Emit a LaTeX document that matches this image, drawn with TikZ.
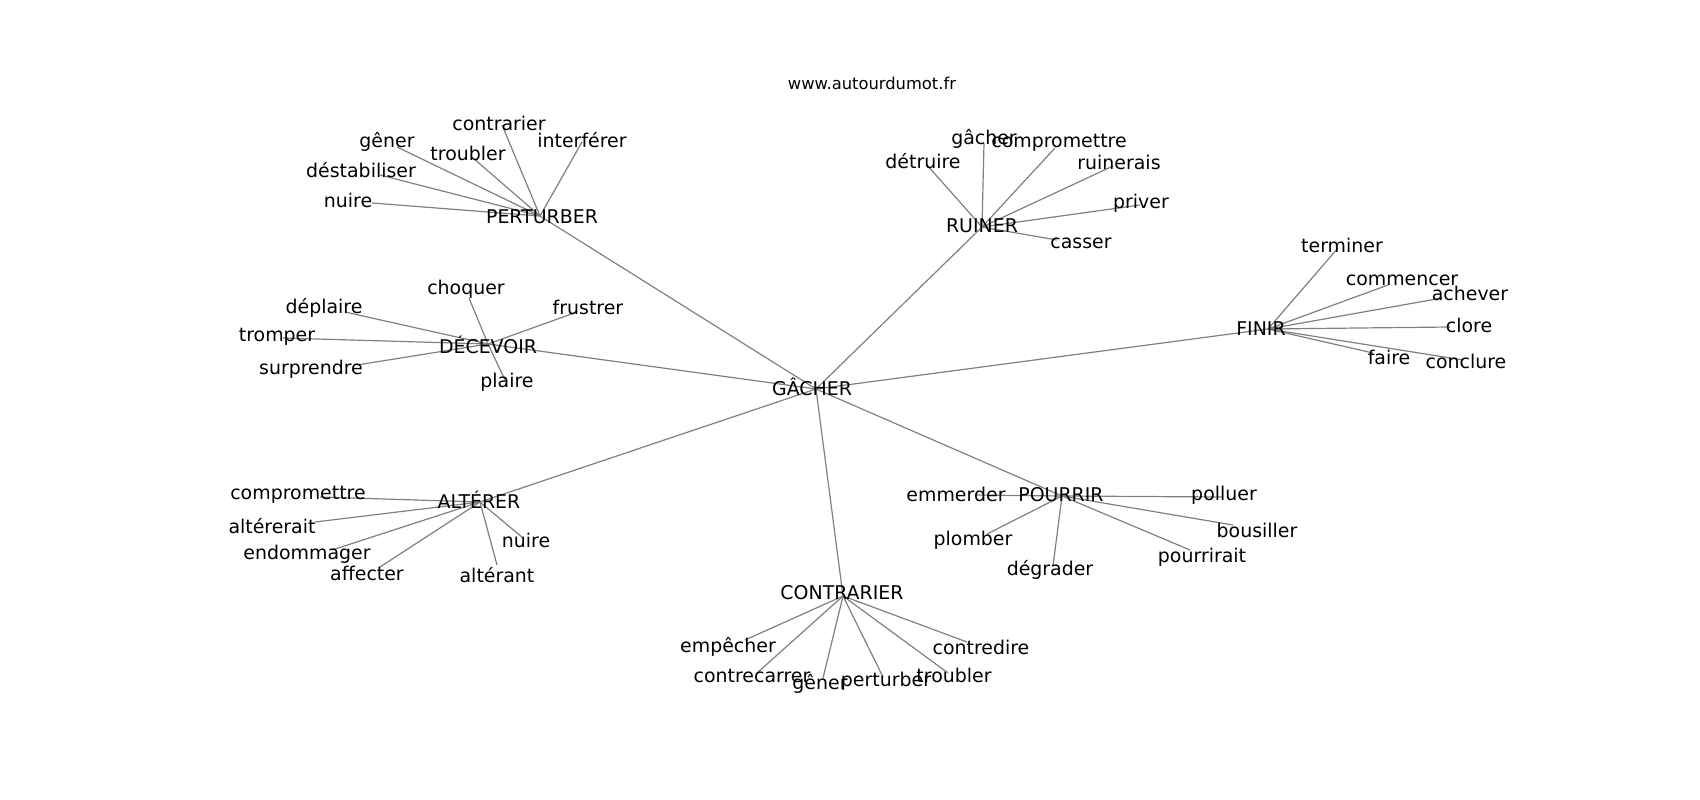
\documentclass[tikz,border=0pt]{standalone}
\usepackage{fontspec}
\setmainfont{DejaVu Sans}
\tikzset{
  lbl/.style={inner sep=0pt, anchor=center, text=black, font=\fontsize{19}{22}\selectfont},
  ttl/.style={inner sep=0pt, anchor=center, text=black, font=\fontsize{16.4}{19}\selectfont},
  edge/.style={draw=gray, line width=1.2bp}
}
\begin{document}
\begin{tikzpicture}[x=1bp,y=-1bp]
\useasboundingbox[fill=white] (0,0) rectangle (1700,800);
% hub points
\coordinate (g) at (816,389);
\coordinate (pe) at (540,216);
\coordinate (de) at (488,344);
\coordinate (al) at (480,502);
\coordinate (co) at (843,596);
\coordinate (po) at (1062,496);
\coordinate (fi) at (1268,329);
\coordinate (ru) at (982,227);
% leaf points
\coordinate (pe1) at (502,125);
\coordinate (pe2) at (582,142);
\coordinate (pe3) at (397,147);
\coordinate (pe4) at (473,158);
\coordinate (pe5) at (380,175);
\coordinate (pe6) at (372,203);
\coordinate (de1) at (469,298);
\coordinate (de2) at (577,312);
\coordinate (de3) at (345,312);
\coordinate (de4) at (283,338);
\coordinate (de5) at (357,365);
\coordinate (de6) at (505,380);
\coordinate (ru1) at (984,143);
\coordinate (ru2) at (1055,148);
\coordinate (ru3) at (927,165);
\coordinate (ru4) at (1113,166);
\coordinate (ru5) at (1140,205);
\coordinate (ru6) at (1057,240);
\coordinate (fi1) at (1338,248);
\coordinate (fi2) at (1388,285);
\coordinate (fi3) at (1442,298);
\coordinate (fi4) at (1450,327);
\coordinate (fi5) at (1373,353);
\coordinate (fi6) at (1463,360);
\coordinate (al1) at (320,497);
\coordinate (al2) at (315,522);
\coordinate (al3) at (332,550);
\coordinate (al4) at (380,567);
\coordinate (al5) at (523,538);
\coordinate (al6) at (497,565);
\coordinate (co1) at (745,640);
\coordinate (co2) at (757,673);
\coordinate (co3) at (823,678);
\coordinate (co4) at (883,677);
\coordinate (co5) at (948,673);
\coordinate (co6) at (967,642);
\coordinate (po1) at (975,495);
\coordinate (po2) at (1223,497);
\coordinate (po3) at (1233,525);
\coordinate (po4) at (987,534);
\coordinate (po5) at (1053,566);
\coordinate (po6) at (1190,550);
% edges
\foreach \h in {pe,de,al,co,po,fi,ru}{\draw[edge] (g) -- (\h);}
\foreach \h in {pe,de,ru,fi,al,co,po}{
  \foreach \i in {1,...,6}{\draw[edge] (\h) -- (\h\i);}
}
% labels
\node[ttl] (title) at (872,83) {www.autourdumot.fr};
\node[lbl] (tg) at (812,387) {GÂCHER};
\node[lbl] (tpe) at (542,217) {PERTURBER};
\node[lbl] (tpe1) at (499,123) {contrarier};
\node[lbl] (tpe2) at (582,140) {interférer};
\node[lbl] (tpe3) at (387,142) {gêner};
\node[lbl] (tpe4) at (468,153) {troubler};
\node[lbl] (tpe5) at (361,170) {déstabiliser};
\node[lbl] (tpe6) at (348,200) {nuire};
\node[lbl] (tde) at (488,345) {DÉCEVOIR};
\node[lbl] (tde1) at (466,289) {choquer};
\node[lbl] (tde2) at (588,307) {frustrer};
\node[lbl] (tde3) at (324,308) {déplaire};
\node[lbl] (tde4) at (277,337) {tromper};
\node[lbl] (tde5) at (311,369) {surprendre};
\node[lbl] (tde6) at (507,382) {plaire};
\node[lbl] (tru) at (982,226) {RUINER};
\node[lbl] (tru1) at (984,139) {gâcher};
\node[lbl] (tru2) at (1059,143) {compromettre};
\node[lbl] (tru3) at (923,161) {détruire};
\node[lbl] (tru4) at (1119,162) {ruinerais};
\node[lbl] (tru5) at (1141,203) {priver};
\node[lbl] (tru6) at (1081,243) {casser};
\node[lbl] (tfi) at (1261,329) {FINIR};
\node[lbl] (tfi1) at (1342,245) {terminer};
\node[lbl] (tfi2) at (1402,280) {commencer};
\node[lbl] (tfi3) at (1470,293) {achever};
\node[lbl] (tfi4) at (1469,325) {clore};
\node[lbl] (tfi5) at (1389,357) {faire};
\node[lbl] (tfi6) at (1466,361) {conclure};
\node[lbl] (tal) at (479,500) {ALTÉRER};
\node[lbl] (tal1) at (298,495) {compromettre};
\node[lbl] (tal2) at (272,526) {altérerait};
\node[lbl] (tal3) at (307,554) {endommager};
\node[lbl] (tal4) at (367,573) {affecter};
\node[lbl] (tal5) at (526,540) {nuire};
\node[lbl] (tal6) at (497,575) {altérant};
\node[lbl] (tco) at (842,593) {CONTRARIER};
\node[lbl] (tco1) at (728,647) {empêcher};
\node[lbl] (tco2) at (752,676) {contrecarrer};
\node[lbl] (tco3) at (820,684) {gêner};
\node[lbl] (tco4) at (886,681) {perturber};
\node[lbl] (tco5) at (954,675) {troubler};
\node[lbl] (tco6) at (981,647) {contredire};
\node[lbl] (tpo) at (1061,495) {POURRIR};
\node[lbl] (tpo1) at (956,494) {emmerder};
\node[lbl] (tpo2) at (1224,495) {polluer};
\node[lbl] (tpo3) at (1257,530) {bousiller};
\node[lbl] (tpo4) at (973,540) {plomber};
\node[lbl] (tpo5) at (1050,570) {dégrader};
\node[lbl] (tpo6) at (1202,557) {pourrirait};
\end{tikzpicture}
\end{document}
